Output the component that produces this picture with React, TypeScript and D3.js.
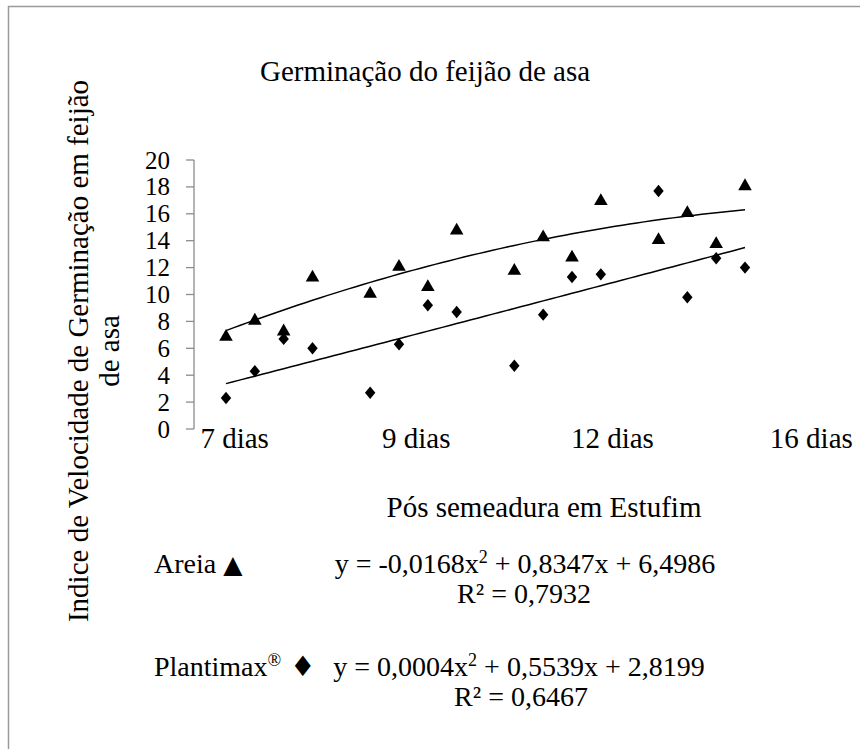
import React from "react";
import * as d3 from "d3";

// ---- data ----
const days = [1, 2, 3, 4, 6, 7, 8, 9, 11, 12, 13, 14, 16, 17, 18, 19];
const areia = [7.0, 8.2, 7.4, 11.4, 10.2, 12.2, 10.7, 14.9, 11.9, 14.4, 12.9, 17.1, 14.2, 16.2, 13.9, 18.2];
const plantimax = [2.3, 4.3, 6.7, 6.0, 2.7, 6.3, 9.2, 8.7, 4.7, 8.5, 11.3, 11.5, 17.7, 9.8, 12.7, 12.0];
const areiaCoef = [-0.0168, 0.8347, 6.4986];
const plantimaxCoef = [0.0004, 0.5539, 2.8199];
const yTicks = [0, 2, 4, 6, 8, 10, 12, 14, 16, 18, 20];
const xTickLabels = ["7 dias", "9 dias", "12 dias", "16 dias"];
const xTickPos = [1.3, 7.6, 14.4, 21.3];

const W = 860;
const H = 749;
const FONT = "'Liberation Serif', 'Times New Roman', serif";

export default function App() {
  const x = d3.scaleLinear().domain([1, 19]).range([226, 745]);
  const y = d3.scaleLinear().domain([0, 20]).range([429, 160]);
  const axisX = 194;

  const fitPts = (c: number[]) =>
    d3.range(1, 19.01, 0.25).map((t) => [t, c[0] * t * t + c[1] * t + c[2]] as [number, number]);
  const line = d3
    .line<[number, number]>()
    .x((d) => x(d[0]))
    .y((d) => y(d[1]));

  const tri = d3.symbol().type(d3.symbolTriangle).size(80)();
  const diamond = "M0,-6.2L5.2,0L0,6.2L-5.2,0Z";

  return (
    <svg
      width={W}
      height={H}
      style={{ position: "absolute", left: 0, top: 0, background: "#fff" }}
      fontFamily={FONT}
    >
      <rect x={0} y={0} width={W} height={H} fill="#fff" />
      <path d={`M8.5,${H}V6.5H${W}`} fill="none" stroke="#9a9a9a" strokeWidth={1.5} />

      {/* title */}
      <text x={425} y={81} fontSize={29} textAnchor="middle">
        Germinação do feijão de asa
      </text>

      {/* y axis */}
      <line x1={axisX} x2={axisX} y1={y(20)} y2={y(0)} stroke="#8c8c8c" strokeWidth={1.3} />
      {yTicks.map((t) => (
        <g key={t}>
          <line x1={axisX - 8} x2={axisX} y1={y(t)} y2={y(t)} stroke="#8c8c8c" strokeWidth={1.3} />
          <text x={170} y={y(t)} dy="0.34em" fontSize={25} textAnchor="end">
            {t}
          </text>
        </g>
      ))}

      {/* x labels */}
      {xTickLabels.map((l, i) => (
        <text key={l} x={x(xTickPos[i])} y={448} fontSize={29} textAnchor="middle">
          {l}
        </text>
      ))}

      {/* y title */}
      <g transform="translate(88,351) rotate(-90)">
        <text x={0} y={0} fontSize={29} textAnchor="middle">
          Indice de Velocidade de Germinação em feijão
        </text>
        <text x={0} y={31} fontSize={29} textAnchor="middle">
          de asa
        </text>
      </g>

      {/* trend lines */}
      <path d={line(fitPts(areiaCoef)) || ""} fill="none" stroke="#000" strokeWidth={1.5} />
      <path d={line(fitPts(plantimaxCoef)) || ""} fill="none" stroke="#000" strokeWidth={1.5} />

      {/* points */}
      {days.map((d, i) => (
        <path key={"a" + i} d={tri || ""} transform={`translate(${x(d)},${y(areia[i]) + 2})`} fill="#000" />
      ))}
      {days.map((d, i) => (
        <path key={"p" + i} d={diamond} transform={`translate(${x(d)},${y(plantimax[i])})`} fill="#000" />
      ))}

      {/* x title */}
      <text x={544} y={517} fontSize={29} textAnchor="middle">
        Pós semeadura em Estufim
      </text>

      {/* equations */}
      <text x={154} y={573} fontSize={28}>
        Areia <tspan fontFamily="'DejaVu Sans', sans-serif" fontSize={25}>▲</tspan>
      </text>
      <text x={525} y={573} fontSize={28} textAnchor="middle">
        y = -0,0168x<tspan dy={-10} fontSize={18}>2</tspan>
        <tspan dy={10}> + 0,8347x + 6,4986</tspan>
      </text>
      <text x={524} y={603} fontSize={28} textAnchor="middle">
        R² = 0,7932
      </text>

      <text x={154} y={676} fontSize={28}>
        Plantimax<tspan dy={-10} fontSize={18}>®</tspan>
        <tspan dy={10} fontFamily="'DejaVu Sans', sans-serif" fontSize={28}> ♦</tspan>
      </text>
      <text x={519} y={676} fontSize={28} textAnchor="middle">
        y = 0,0004x<tspan dy={-10} fontSize={18}>2</tspan>
        <tspan dy={10}> + 0,5539x + 2,8199</tspan>
      </text>
      <text x={521} y={706} fontSize={28} textAnchor="middle">
        R² = 0,6467
      </text>
    </svg>
  );
}
